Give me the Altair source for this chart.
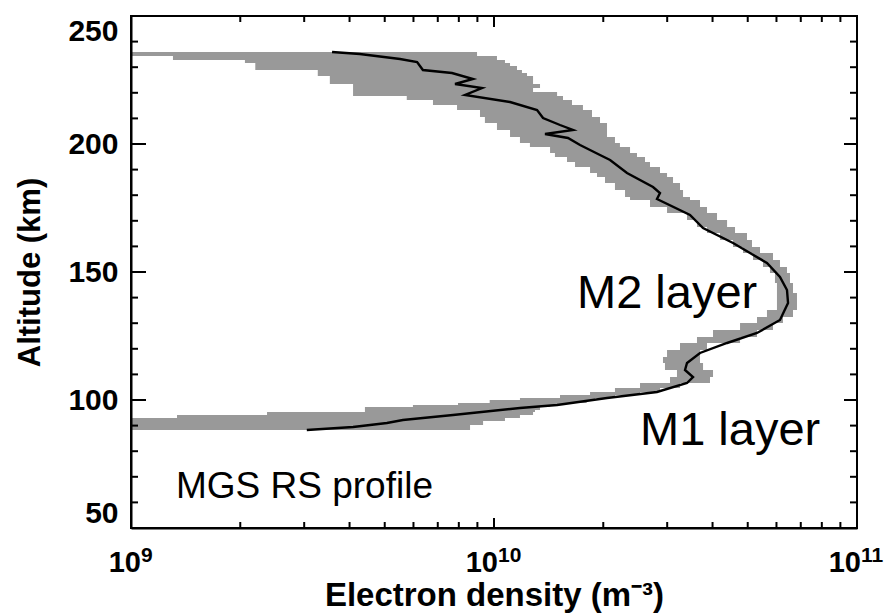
import altair as alt
import pandas as pd

# Median electron density profile: altitude (km) and density (m^-3)
profile_alt = [235.94, 235.16, 233.2, 232.03, 228.91, 227.73, 225.39, 223.44, 221.88, 219.14,
               216.41, 213.28, 210.16, 207.42, 205.47, 203.91, 202.34, 199.61, 195.7, 193.75,
               188.67, 183.2, 180.86, 178.52, 172.27, 167.19, 161.33, 153.52, 148.05, 142.97,
               137.89, 131.25, 126.17, 122.27, 118.36, 114.45, 111.72, 108.98, 106.64, 103.13,
               100.78, 98.05, 96.88, 94.14, 92.19, 91.02, 89.45, 88.28]
profile_ne = [3.58e9, 4.27e9, 5.51e9, 6.14e9, 6.37e9, 7.66e9, 8.75e9, 7.81e9, 9.27e9, 8.32e9,
              1.107e10, 1.314e10, 1.365e10, 1.520e10, 1.651e10, 1.382e10, 1.599e10, 1.726e10, 1.959e10, 2.088e10,
              2.325e10, 2.742e10, 2.866e10, 2.812e10, 3.467e10, 3.766e10, 4.555e10, 5.649e10, 6.135e10, 6.414e10,
              6.457e10, 6.135e10, 5.303e10, 4.386e10, 3.694e10, 3.402e10, 3.359e10, 3.534e10, 3.402e10, 2.812e10,
              2.048e10, 1.492e10, 1.179e10, 7.71e9, 5.61e9, 5.07e9, 4.09e9, 3.05e9]

# Spread of the individual profiles; each row holds from its altitude down to the next lower one
band_alt = [235.94, 234.38, 232.81, 231.64, 230.47, 228.91, 227.73, 226.56, 225.0, 223.44,
            221.88, 220.31, 218.75, 217.19, 215.23, 213.28, 210.55, 208.2, 205.47, 202.73,
            200.39, 198.83, 196.48, 194.92, 192.97, 191.02, 188.67, 187.11, 184.77, 182.03,
            179.3, 178.13, 175.39, 173.05, 170.31, 167.58, 165.23, 162.5, 159.77, 157.42,
            154.69, 151.95, 149.61, 145.7, 141.8, 137.9, 135.16, 132.42, 130.08, 127.34,
            124.61, 122.27, 119.53, 116.8, 114.45, 111.72, 108.98, 106.64, 104.69, 103.13,
            101.95, 100.78, 100.0, 98.83, 98.05, 97.27, 96.09, 95.31, 94.14, 92.97,
            91.8, 90.23, 89.06, 88.28]
band_lo = [1.0e9, 1.0e9, 1.305e9, 2.06e9, 2.20e9, 2.20e9, 3.27e9, 3.27e9, 3.53e9, 3.53e9,
           4.09e9, 4.09e9, 4.09e9, 5.75e9, 6.79e9, 7.91e9, 9.15e9, 9.44e9, 1.019e10, 1.107e10,
           1.179e10, 1.256e10, 1.427e10, 1.472e10, 1.589e10, 1.672e10, 1.839e10, 1.922e10, 2.022e10, 2.154e10,
           2.296e10, 2.370e10, 2.690e10, 2.997e10, 3.402e10, 3.624e10, 3.862e10, 4.195e10, 4.555e10, 4.853e10,
           5.170e10, 5.508e10, 5.758e10, 5.943e10, 6.019e10, 6.019e10, 6.019e10, 5.649e10, 5.303e10, 4.762e10,
           4.012e10, 3.624e10, 3.254e10, 2.997e10, 2.921e10, 2.958e10, 3.192e10, 3.054e10, 2.525e10, 2.154e10,
           1.839e10, 1.520e10, 1.179e10, 9.73e9, 7.96e9, 5.98e9, 4.41e9, 4.41e9, 2.37e9, 1.339e9,
           1.0e9, 1.0e9, 1.0e9, 1.0e9]
band_hi = [8.43e9, 8.98e9, 1.019e10, 1.072e10, 1.107e10, 1.157e10, 1.194e10, 1.233e10, 1.281e10, 1.281e10,
           1.339e10, 1.281e10, 1.492e10, 1.549e10, 1.640e10, 1.758e10, 1.862e10, 1.959e10, 2.048e10, 2.048e10,
           2.154e10, 2.223e10, 2.370e10, 2.477e10, 2.606e10, 2.690e10, 2.866e10, 2.997e10, 3.113e10, 3.254e10,
           3.317e10, 3.467e10, 3.694e10, 3.862e10, 4.115e10, 4.386e10, 4.613e10, 4.977e10, 5.137e10, 5.405e10,
           5.869e10, 6.135e10, 6.414e10, 6.537e10, 6.663e10, 6.834e10, 6.834e10, 6.663e10, 6.252e10, 5.869e10,
           5.303e10, 4.762e10, 3.862e10, 3.694e10, 3.694e10, 3.766e10, 4.012e10, 3.936e10, 3.254e10, 2.866e10,
           2.525e10, 2.154e10, 1.897e10, 1.80e10, 1.569e10, 1.427e10, 1.339e10, 1.297e10, 1.281e10, 1.179e10,
           1.072e10, 9.33e9, 8.59e9, 8.59e9]

# Annotations
layer_labels = ["M2 layer", "M1 layer"]
layer_label_ne = [1.693e10, 2.525e10]
layer_label_alt = [135.9, 82.4]
source_label = ["MGS RS profile"]
source_label_ne = [1.33e9]
source_label_alt = [61.7]

# Axis ticks and the powers of ten labelling the density axis
x_major = [1e9, 1e10, 1e11]
x_exponent = ["9", "10", "11"]
x_minor = [2e9, 3e9, 4e9, 5e9, 6e9, 7e9, 8e9, 9e9,
           2e10, 3e10, 4e10, 5e10, 6e10, 7e10, 8e10, 9e10]
y_major = [50, 100, 150, 200, 250]
y_minor = [60, 70, 80, 90, 110, 120, 130, 140, 160, 170, 180, 190, 210, 220, 230, 240]

W, H = 726, 512
FONT = "Liberation Sans"
BASE_SIZE, EXP_SIZE = 29, 21

profile = pd.DataFrame({"alt": profile_alt, "ne": profile_ne, "idx": range(len(profile_alt))})
band = pd.DataFrame({"alt": band_alt, "ne": band_lo, "hi": band_hi})
layers_df = pd.DataFrame({"ne": layer_label_ne, "alt": layer_label_alt, "text": layer_labels})
source_df = pd.DataFrame({"ne": source_label_ne, "alt": source_label_alt, "text": source_label})
powers = pd.DataFrame({"ne": x_major, "exp": x_exponent})
powers["digits"] = powers["exp"].str.len()

x_enc = alt.X(
    "ne:Q",
    scale=alt.Scale(type="log", domain=[1e9, 1e11]),
    axis=alt.Axis(
        values=x_major, labels=False,
        title="Electron density (m\u207b\u00b3)",
        ticks=False, tickSize=0, grid=False,
        domain=True, domainColor="black", domainWidth=2,
        titlePadding=51, titleFontSize=33, zindex=1,
    ),
)
y_enc = alt.Y(
    "alt:Q",
    scale=alt.Scale(domain=[50, 250]),
    axis=alt.Axis(
        values=y_major,
        title="Altitude (km)",
        ticks=False, tickSize=0, grid=False,
        domain=True, domainColor="black", domainWidth=2,
        labelPadding=13, labelFlush=True, labelFontSize=30,
        titlePadding=21, zindex=1,
    ),
)

spread = alt.Chart(band).mark_area(
    orient="horizontal", interpolate="step-after", color="#999999", opacity=1
).encode(y=y_enc, x=x_enc, x2="hi:Q")

median = alt.Chart(profile).mark_line(color="black", strokeWidth=2.4).encode(
    x=x_enc, y=y_enc, order="idx:Q"
)

layer_text = alt.Chart(layers_df).mark_text(
    align="left", baseline="alphabetic", font=FONT, fontSize=47, color="black"
).encode(x=x_enc, y=y_enc, text="text:N")

source_text = alt.Chart(source_df).mark_text(
    align="left", baseline="alphabetic", font=FONT, fontSize=37, color="black"
).encode(x=x_enc, y=y_enc, text="text:N")


def power_label(digits, split):
    """'10' plus a raised exponent, centred as a pair under each decade tick."""
    src = alt.Chart(powers).transform_filter(alt.datum.digits == digits)
    base = src.mark_text(
        align="right", baseline="alphabetic", font=FONT, fontWeight="bold",
        fontSize=BASE_SIZE, color="black", dx=split
    ).encode(x=x_enc, y=alt.value(H + 44), text=alt.value("10"))
    exp = src.mark_text(
        align="left", baseline="alphabetic", font=FONT, fontWeight="bold",
        fontSize=EXP_SIZE, color="black", dx=split
    ).encode(x=x_enc, y=alt.value(H + 34), text="exp:N")
    return [base, exp]


ymaj = pd.DataFrame({"alt": y_major})
ymin = pd.DataFrame({"alt": y_minor})
xmaj = pd.DataFrame({"ne": x_major})
xmin = pd.DataFrame({"ne": x_minor})


def tick(df, **enc):
    return alt.Chart(df).mark_rule(color="black", strokeWidth=2).encode(**enc)


ticks = [
    tick(ymaj, y=y_enc, x=alt.value(0), x2=alt.value(15)),
    tick(ymin, y=y_enc, x=alt.value(0), x2=alt.value(7)),
    tick(ymaj, y=y_enc, x=alt.value(W - 13), x2=alt.value(W)),
    tick(ymin, y=y_enc, x=alt.value(W - 7), x2=alt.value(W)),
    tick(xmaj, x=x_enc, y=alt.value(0), y2=alt.value(11)),
    tick(xmin, x=x_enc, y=alt.value(0), y2=alt.value(6)),
    tick(xmaj, x=x_enc, y=alt.value(H - 10), y2=alt.value(H)),
    tick(xmin, x=x_enc, y=alt.value(H - 6), y2=alt.value(H)),
]

chart = alt.layer(
    spread, median, layer_text, source_text,
    *power_label(1, 10), *power_label(2, 4), *ticks
).properties(
    width=W, height=H,
    padding={"left": 131, "top": 16, "right": 29, "bottom": 85},
    autosize=alt.AutoSizeParams(type="none"),
    background="white",
).configure_view(
    stroke="black", strokeWidth=2
).configure_axis(
    labelFont=FONT, labelFontWeight="bold", labelFontSize=30, labelColor="black",
    titleFont=FONT, titleFontWeight="bold", titleFontSize=31, titleColor="black",
)

chart.save("out.html", embed_options={"renderer": "svg", "actions": False})
